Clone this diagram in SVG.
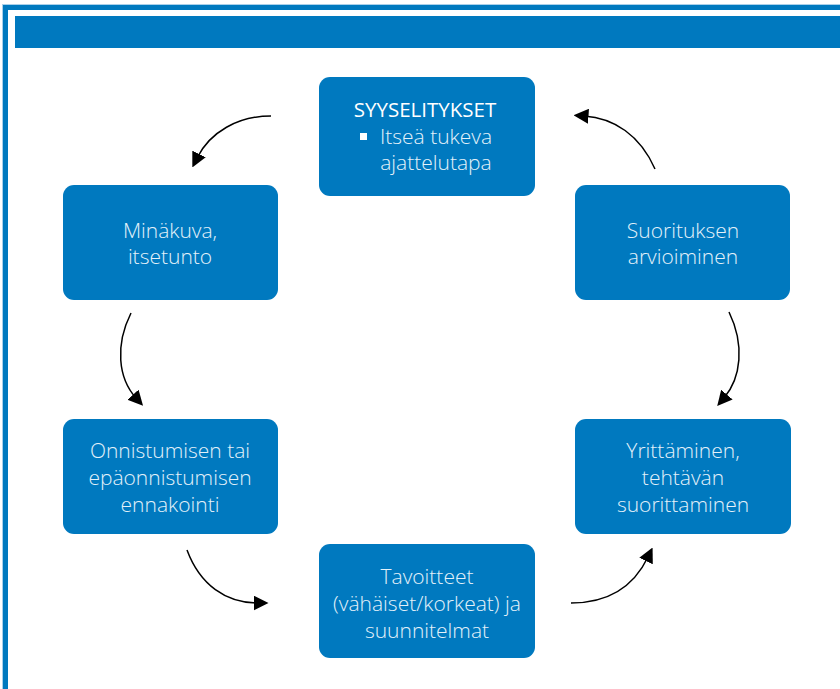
<svg xmlns="http://www.w3.org/2000/svg" width="840" height="689" viewBox="0 0 840 689">
<defs>
<style>
.node rect.box{fill:#0079bf;}
.node rect.bullet{fill:#ffffff;}
.node text{font-family:"Open Sans","Noto Sans",sans-serif;font-size:21px;font-weight:300;fill:#e3f1fa;text-anchor:middle;}
.node text.head{font-size:20.5px;font-weight:400;fill:#ffffff;}
.conn path{fill:none;stroke:#000;stroke-width:1.5;marker-end:url(#ah);}
</style>
<marker id="ah" viewBox="0 0 10 10" refX="3" refY="5" markerWidth="15" markerHeight="15" markerUnits="userSpaceOnUse" orient="auto">
<path d="M0,0 L10,5 L0,10 Z" fill="#000"/>
</marker>
</defs>
<rect width="840" height="689" fill="#fff"/>
<g id="frame">
<rect x="2" y="4" width="838" height="1" fill="#a9d0ea"/>
<rect x="2" y="4" width="1" height="685" fill="#a9d0ea"/>
<rect x="3" y="5" width="837" height="5" fill="#0079bf"/>
<rect x="3" y="5" width="5" height="684" fill="#0079bf"/>
<rect x="15" y="16" width="825" height="32" fill="#0079bf"/>
</g>
<g class="conn" id="connectors">
<path d="M271,116 C238,116 210,132 197,158"/>
<path d="M131,313 C115,345 118,378 136,398"/>
<path d="M187,550 C200,585 226,603 258,603"/>
<path d="M571,603 C605,603 632,590 648,557"/>
<path d="M729,312 C745,345 741,378 724,398"/>
<path d="M655,169 C640,135 614,118 584,116"/>
</g>
<g class="node" id="n-syy">
<rect class="box" x="319" y="77" width="216" height="119" rx="11"/>
<text class="head" x="425" y="117">SYYSELITYKSET</text>
<rect class="bullet" x="360" y="133" width="7" height="7"/>
<text x="436" y="144">Itseä tukeva</text>
<text x="436" y="170">ajattelutapa</text>
</g>
<g class="node" id="n-mina">
<rect class="box" x="63" y="185" width="215" height="115" rx="11"/>
<text x="170" y="238">Minäkuva,</text>
<text x="170" y="264">itsetunto</text>
</g>
<g class="node" id="n-suor">
<rect class="box" x="575" y="185" width="215" height="115" rx="11"/>
<text x="683" y="238">Suorituksen</text>
<text x="683" y="264">arvioiminen</text>
</g>
<g class="node" id="n-onn">
<rect class="box" x="63" y="419" width="215" height="115" rx="11"/>
<text x="170" y="458">Onnistumisen tai</text>
<text x="170" y="485">epäonnistumisen</text>
<text x="170" y="512">ennakointi</text>
</g>
<g class="node" id="n-yri">
<rect class="box" x="575" y="419" width="216" height="115" rx="11"/>
<text x="683" y="458">Yrittäminen,</text>
<text x="683" y="485">tehtävän</text>
<text x="683" y="512">suorittaminen</text>
</g>
<g class="node" id="n-tav">
<rect class="box" x="319" y="544" width="216" height="114" rx="11"/>
<text x="427" y="584">Tavoitteet</text>
<text x="427" y="611">(vähäiset/korkeat) ja</text>
<text x="427" y="638">suunnitelmat</text>
</g>
</svg>
